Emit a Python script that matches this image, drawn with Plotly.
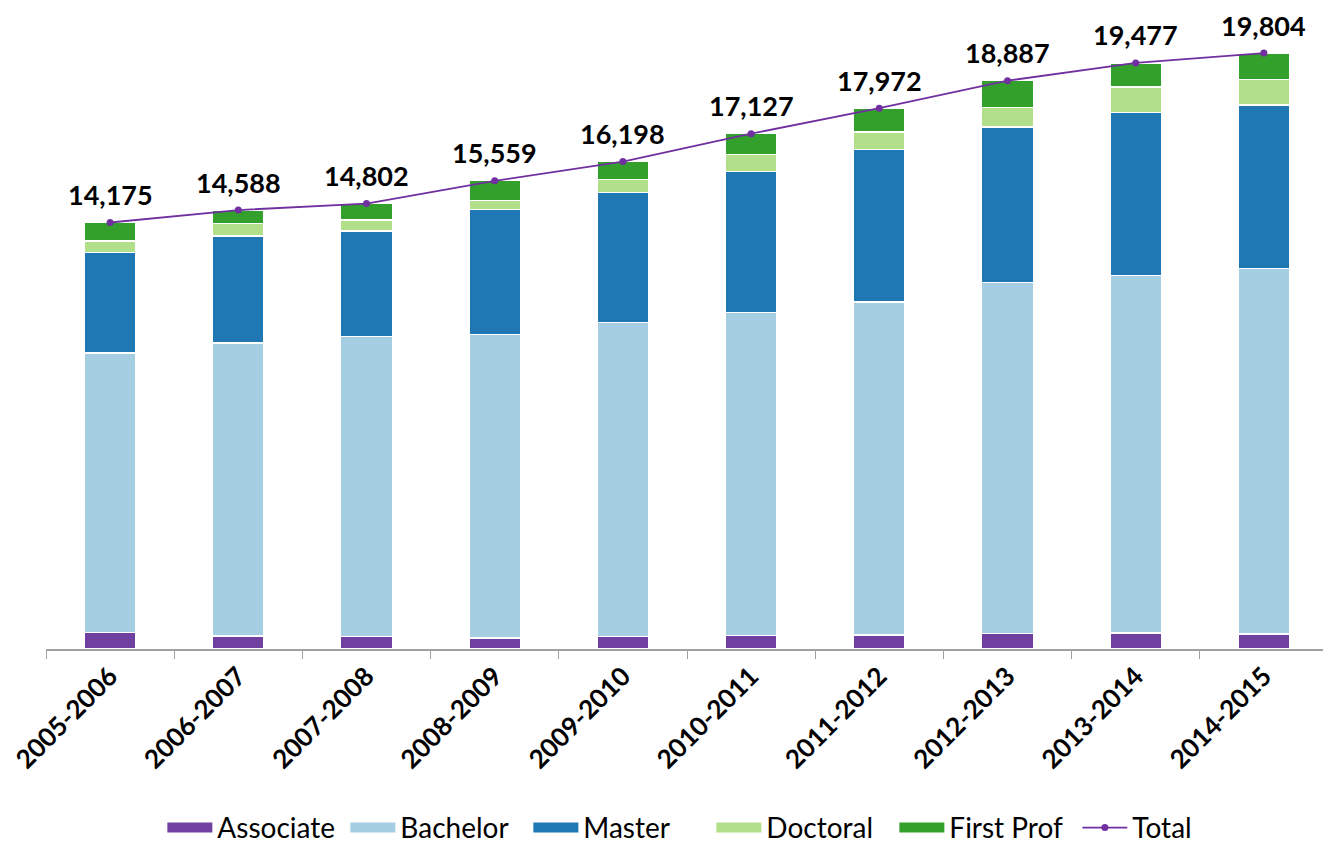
import plotly.graph_objects as go

years = ['2005-2006', '2006-2007', '2007-2008', '2008-2009', '2009-2010',
         '2010-2011', '2011-2012', '2012-2013', '2013-2014', '2014-2015']
associate = [542, 432, 422, 366, 409, 442, 465, 522, 532, 498]
bachelor = [9296, 9737, 9957, 10080, 10435, 10734, 11067, 11652, 11874, 12153]
master = [3347, 3556, 3513, 4154, 4334, 4699, 5061, 5174, 5417, 5427]
doctoral = [376, 409, 366, 312, 432, 552, 588, 655, 854, 854]
first_prof = [614, 454, 544, 647, 588, 700, 791, 884, 800, 872]
total = [14175, 14588, 14802, 15559, 16198, 17127, 17972, 18887, 19477, 19804]

series = [
    ('Associate', associate, '#7040A0'),
    ('Bachelor', bachelor, '#A6CEE3'),
    ('Master', master, '#1F78B4'),
    ('Doctoral', doctoral, '#B2DF8A'),
    ('First Prof', first_prof, '#33A02C'),
]

fig = go.Figure()
for name, vals, col in series:
    fig.add_trace(go.Bar(x=years, y=vals, name=name, showlegend=False,
                         marker=dict(color=col, line=dict(color='white', width=1.2)),
                         width=0.4))
    # legend entry drawn as a wide swatch
    fig.add_trace(go.Scatter(x=[None], y=[None], name=name, mode='lines',
                             line=dict(color=col, width=18)))

fig.add_trace(go.Scatter(x=years, y=total, name='Total', mode='lines+markers',
                         line=dict(color='#7030A0', width=1.8),
                         marker=dict(color='#7030A0', size=7)))

for x, v in zip(years, total):
    fig.add_annotation(x=x, y=v, text='<b>{:,}</b>'.format(v), showarrow=False,
                       yshift=28, font=dict(size=27, color='black'))

# page body has an 8px margin, so the figure is sized to fit the window
fig.update_layout(
    barmode='stack',
    width=1323, height=836,
    margin=dict(l=38, r=3, t=0, b=195, autoexpand=False),
    plot_bgcolor='white', paper_bgcolor='white',
    font=dict(family='Lato', color='black'),
    legend=dict(orientation='h', x=0.519, xanchor='center', y=-0.279, yanchor='middle',
                traceorder='normal', font=dict(size=28), itemwidth=45,
                itemsizing='trace', entrywidth=123, entrywidthmode='pixels'),
    showlegend=True,
)
fig.update_xaxes(type='category', showline=True, linecolor='#A0A0A0', linewidth=1.5,
                 ticks='outside', tickson='boundaries', ticklen=8, tickcolor='#A0A0A0',
                 tickangle=-45, tickfont=dict(size=26, family='Lato', weight='bold'),
                 range=[-0.5, 9.5])
fig.update_yaxes(visible=False, range=[0, 21303])

fig.write_html('out.html')
